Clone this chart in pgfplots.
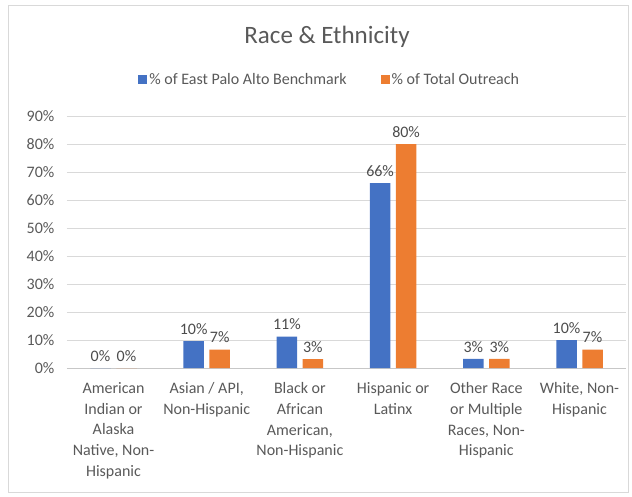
\documentclass[border=0pt]{standalone}
\usepackage{pgfplots}
\pgfplotsset{compat=1.18}
\usepackage{fontspec}
\setmainfont{Carlito}
\definecolor{xlblue}{HTML}{4472C4}
\definecolor{xlorange}{HTML}{ED7D31}
\definecolor{xltext}{HTML}{595959}
\definecolor{xlgrid}{HTML}{D9D9D9}

\begin{document}
\begin{tikzpicture}[x=1pt,y=1pt]
  % page frame and chart border
  \path (0,0) rectangle (632,496);
  \draw[xlgrid, line width=0.8pt] (8,4) rectangle (628,491);
  \node[text=xltext, font=\fontsize{25}{30}\selectfont] at (327,459) {Race \& Ethnicity};

  \begin{axis}[
    at={(66.9pt,128pt)}, anchor=south west,
    scale only axis,
    width=559.2pt, height=252pt,
    ybar=5.5pt, bar width=20.5pt,
    xmin=-0.5, xmax=5.5,
    ymin=0, ymax=90,
    ytick={0,10,...,90},
    xtick=data,
    xticklabels={{American\\Indian or\\Alaska\\Native, Non-\\Hispanic},
                 {Asian / API,\\Non-Hispanic},
                 {Black or\\African\\American,\\Non-Hispanic},
                 {Hispanic or\\Latinx},
                 {Other Race\\or Multiple\\Races, Non-\\Hispanic},
                 {White, Non-\\Hispanic}},
    xticklabel style={align=center, anchor=north, yshift=-11pt,
      font=\fontsize{16}{20.7}\selectfont, text=xltext},
    yticklabel={\pgfmathprintnumber[assume math mode=true]{\tick}\%},
    yticklabel style={font=\fontsize{16}{19}\selectfont, text=xltext, xshift=-9pt},
    major tick length=0pt,
    axis line style={draw=none},
    ymajorgrids, grid style={xlgrid, line width=0.8pt},
    extra y ticks={0}, extra y tick labels={},
    extra y tick style={grid style={draw=xlgrid!80!gray, line width=0.8pt}},
    nodes near coords={\pgfmathprintnumber[fixed,precision=0,assume math mode=true]{\pgfplotspointmeta}\%},
    every node near coord/.append style={font=\fontsize{16}{19}\selectfont, text=xltext!85!black, yshift=3pt},
    legend style={at={(0.47,1.143)}, anchor=center, draw=none, fill=none,
      legend columns=2, font=\fontsize{16}{19}\selectfont, text=xltext,
      /tikz/every even column/.append style={column sep=32pt}},
    legend image code/.code={\fill[#1] (0pt,-4.5pt) rectangle (9pt,4.5pt);},
    legend cell align=left,
  ]
    \addplot[fill=xlblue, draw=none] coordinates {
      (0,0) (1,9.6) (2,11.2) (3,66) (4,3.3) (5,10)
    };
    \addplot[fill=xlorange, draw=none] coordinates {
      (0,0) (1,6.6) (2,3.2) (3,80) (4,3.3) (5,6.6)
    };
    \legend{\% of East Palo Alto Benchmark, \% of Total Outreach}
  \end{axis}
\end{tikzpicture}
\end{document}
